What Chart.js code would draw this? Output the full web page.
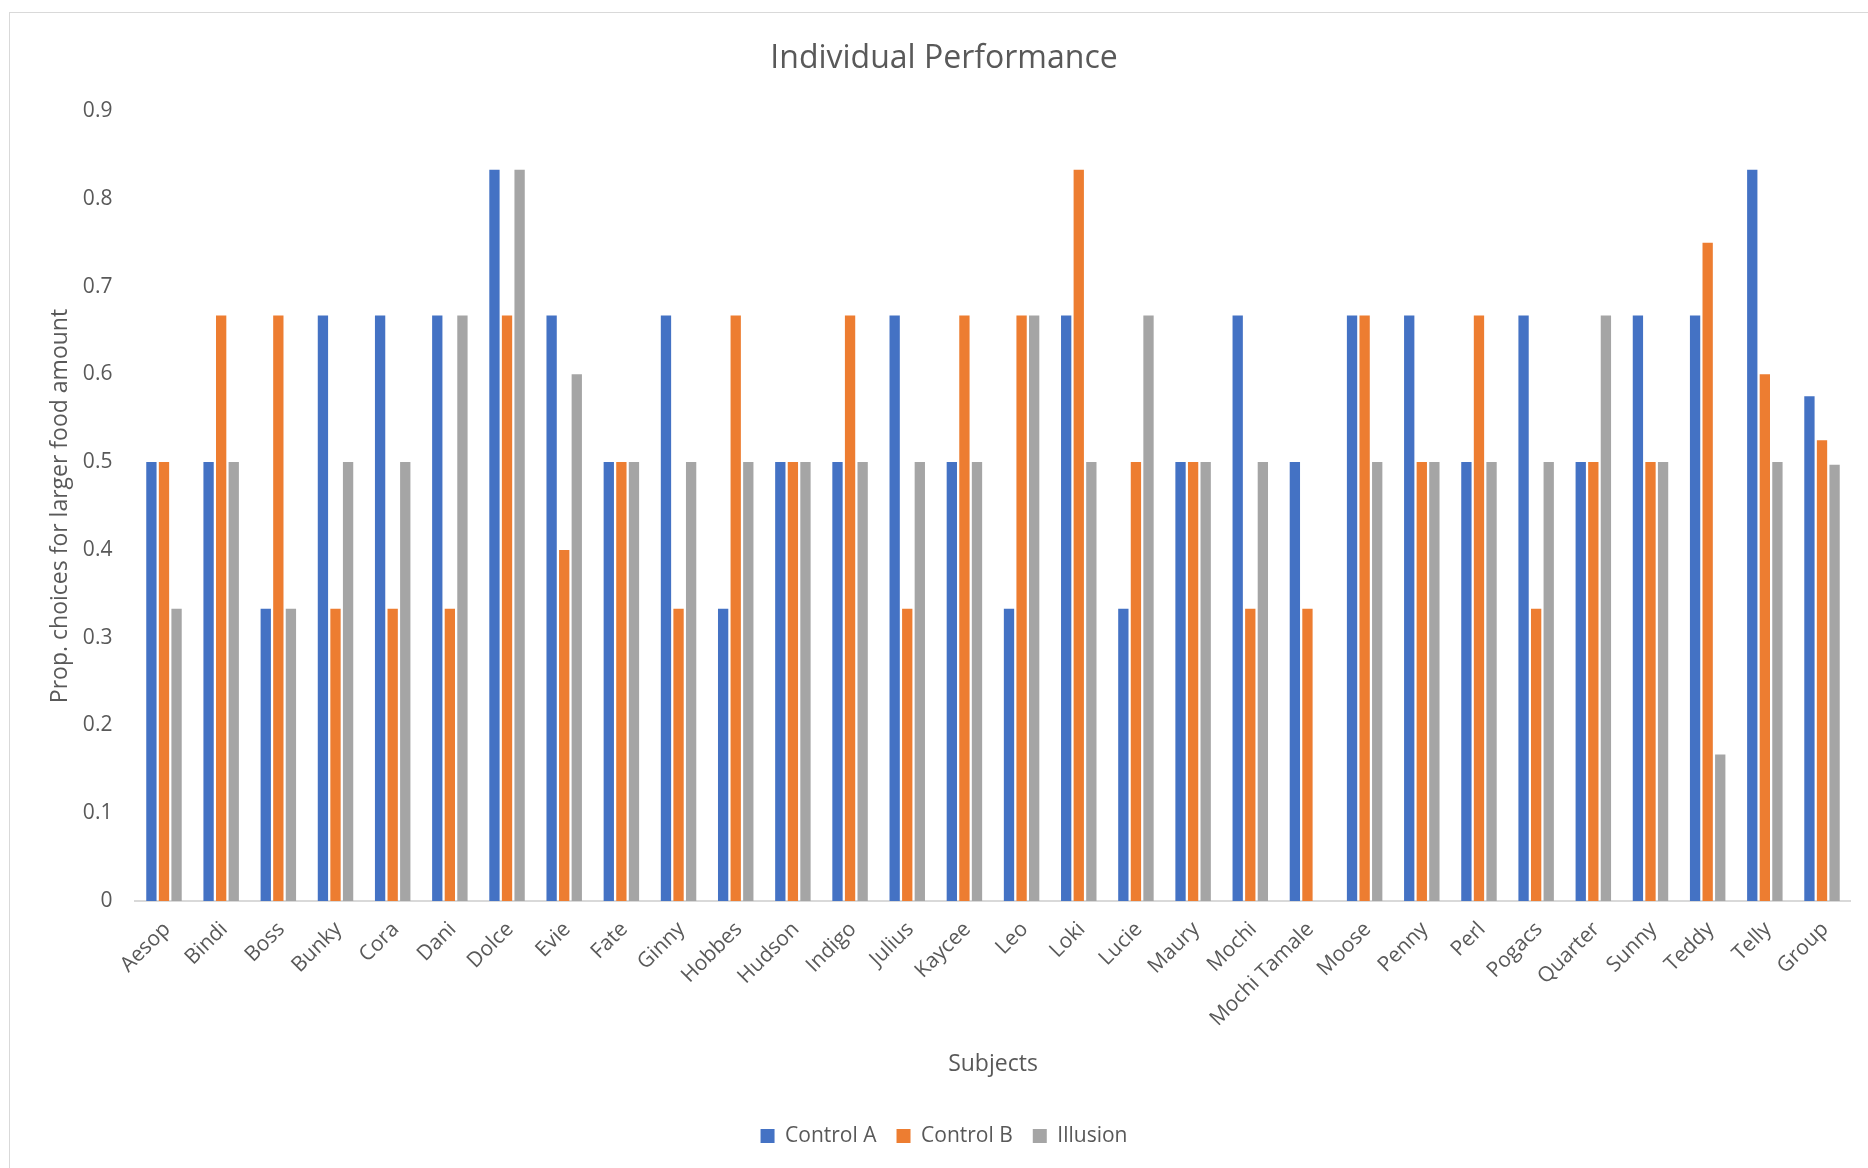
<!DOCTYPE html>
<html>
<head>
<meta charset="utf-8">
<title>Individual Performance</title>
<script src="https://cdn.jsdelivr.net/npm/chart.js@4.4.1/dist/chart.umd.min.js"></script>
<style>
  html, body { margin: 0; padding: 0; background: #fff; overflow: hidden; }
  #frame { position: absolute; left: 9px; top: 12px; width: 2000px; height: 2000px; border: 1px solid #d9d9d9; }
  #chart { position: absolute; left: 0; top: 0; }
</style>
</head>
<body>
<div id="frame"></div>
<canvas id="chart" width="1868" height="1168"></canvas>
<script>
const subjects = ["Aesop", "Bindi", "Boss", "Bunky", "Cora", "Dani", "Dolce", "Evie", "Fate", "Ginny",
  "Hobbes", "Hudson", "Indigo", "Julius", "Kaycee", "Leo", "Loki", "Lucie", "Maury", "Mochi",
  "Mochi Tamale", "Moose", "Penny", "Perl", "Pogacs", "Quarter", "Sunny", "Teddy", "Telly", "Group"];

const controlA = [0.5, 0.5, 0.333, 0.667, 0.667, 0.667, 0.833, 0.667, 0.5, 0.667,
  0.333, 0.5, 0.5, 0.667, 0.5, 0.333, 0.667, 0.333, 0.5, 0.667,
  0.5, 0.667, 0.667, 0.5, 0.667, 0.5, 0.667, 0.667, 0.833, 0.575];

const controlB = [0.5, 0.667, 0.667, 0.333, 0.333, 0.333, 0.667, 0.4, 0.5, 0.333,
  0.667, 0.5, 0.667, 0.333, 0.667, 0.667, 0.833, 0.5, 0.5, 0.333,
  0.333, 0.667, 0.5, 0.667, 0.333, 0.5, 0.5, 0.75, 0.6, 0.525];

const illusion = [0.333, 0.5, 0.333, 0.5, 0.5, 0.667, 0.833, 0.6, 0.5, 0.5,
  0.5, 0.5, 0.5, 0.5, 0.5, 0.667, 0.5, 0.667, 0.5, 0.5,
  null, 0.5, 0.5, 0.5, 0.5, 0.667, 0.5, 0.167, 0.5, 0.497];

const yTicks = [0, 0.1, 0.2, 0.3, 0.4, 0.5, 0.6, 0.7, 0.8, 0.9];

const FONT = "'Open Sans', 'DejaVu Sans', sans-serif";
const TEXT = "#595959";

new Chart(document.getElementById("chart"), {
  type: "bar",
  data: {
    labels: subjects,
    datasets: [
      { label: "Control A", data: controlA, backgroundColor: "#4472C4" },
      { label: "Control B", data: controlB, backgroundColor: "#ED7D31" },
      { label: "Illusion", data: illusion, backgroundColor: "#A5A5A5" },
    ],
  },
  options: {
    responsive: false,
    animation: false,
    devicePixelRatio: 1,
    layout: { padding: { left: 37.4, right: 17.4, top: 0, bottom: 11.5 } },
    datasets: { bar: { categoryPercentage: 0.66, barPercentage: 0.82 } },
    plugins: {
      title: {
        display: true,
        text: "Individual Performance",
        color: TEXT,
        font: { family: FONT, size: 32, weight: "normal" },
        padding: { top: 39.2, bottom: 33.4 },
      },
      legend: {
        position: "bottom",
        labels: {
          color: TEXT,
          font: { family: FONT, size: 21 },
          boxWidth: 14,
          boxHeight: 14,
          padding: 20,
        },
      },
      tooltip: { enabled: false },
    },
    scales: {
      x: {
        grid: { display: false, drawTicks: false },
        border: { display: true, color: "#d9d9d9", width: 2 },
        ticks: {
          color: TEXT,
          font: { family: FONT, size: 21 },
          maxRotation: 45,
          minRotation: 45,
          autoSkip: false,
          padding: 16,
          labelOffset: 3,
        },
        title: {
          display: true,
          text: "Subjects",
          color: TEXT,
          font: { family: FONT, size: 23 },
          padding: { top: 0, bottom: 27.7 },
        },
        afterFit: (s) => { s.height = 204.5; },
      },
      y: {
        min: 0,
        max: 0.9,
        grid: { display: false, drawTicks: false },
        border: { display: false },
        afterBuildTicks: (s) => { s.ticks = yTicks.map((v) => ({ value: v })); },
        ticks: {
          color: TEXT,
          font: { family: FONT, size: 21 },
          padding: 23,
          callback: (v) => String(v),
        },
        title: {
          display: true,
          text: "Prop. choices for larger food amount",
          color: TEXT,
          font: { family: FONT, size: 23 },
          padding: { top: 8.8, bottom: 0 },
        },
        afterFit: (s) => { s.width = 98; },
      },
    },
  },
});
</script>
</body>
</html>
